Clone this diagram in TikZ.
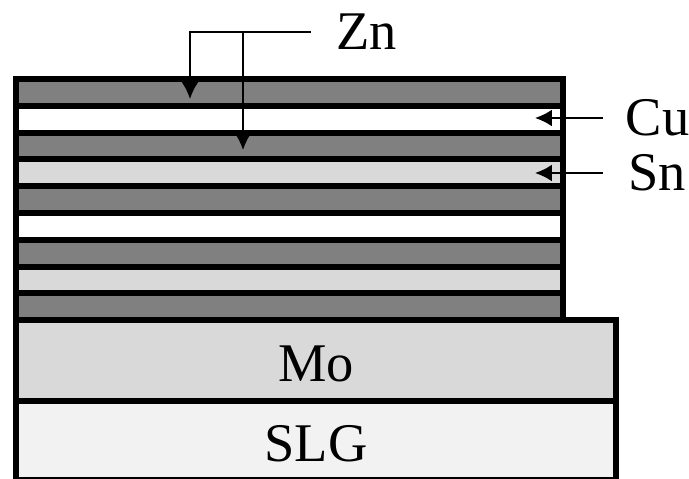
\documentclass[tikz,border=0pt]{standalone}
\usepackage{fontspec}
\setmainfont{Liberation Serif}
\usepackage{tikz}
\usetikzlibrary{arrows.meta}
\usetikzlibrary{positioning}
\definecolor{znfill}{gray}{0.5}
\definecolor{cufill}{gray}{1}
\definecolor{snfill}{gray}{0.85}
\definecolor{mofill}{gray}{0.85}
\definecolor{slgfill}{gray}{0.95}
\tikzset{layer/.style = {draw, line width = 1.7pt}}
\tikzset{lbl/.style = {inner sep = 0, font = \fontsize{15.5}{18}\selectfont}}
\tikzset{pointer/.style = {line width = 0.6pt, -{Latex[length = 0.17cm, width = 0.17cm]}}}

\begin{document}
\begin{tikzpicture}
    \useasboundingbox (0, 0) rectangle (6.89, 4.79);

    % precursor stack
    \foreach \fillc [count=\i from 0] in {znfill, cufill, znfill, snfill, znfill, cufill, znfill, snfill, znfill}
      \draw [layer, fill=\fillc] (0.16, {4.00 - 0.268*\i}) rectangle (5.63, {4.00 - 0.268*(\i + 1)});

    % back contact and glass
    \draw [layer, fill=mofill] (0.16, 1.59) rectangle (6.16, 0.78);
    \draw [layer, fill=slgfill] (0.16, 0.78) rectangle (6.16, -0.01);

    \node [lbl, anchor=base] (mo) at (3.16, 0.97) {Mo};
    \node [lbl, anchor=base] (slg) at (3.16, 0.17) {SLG};

    % labels
    \node [lbl, anchor=west] (zn) at (3.36, 4.47) {Zn};
    \node [lbl, anchor=west] (cu) at (6.25, 3.61) {Cu};
    \node [lbl, anchor=west] (sn) at (6.28, 3.06) {Sn};

    \coordinate (zntipa) at (1.90, 3.80);
    \coordinate (zntipb) at (2.43, 3.29);
    \coordinate (znfork) at (zntipb |- zn.west);
    \coordinate (cutip) at (5.35, 3.61);
    \coordinate (sntip) at (5.35, 3.06);

    \draw [pointer] ([xshift=-2.5mm]zn.west) -| (zntipa);
    \draw [pointer] (znfork) -- (zntipb);
    \draw [pointer] ([xshift=-2.2mm]cu.west) -- (cutip);
    \draw [pointer] ([xshift=-2.5mm]sn.west) -- (sntip);

  \end{tikzpicture}
\end{document}
